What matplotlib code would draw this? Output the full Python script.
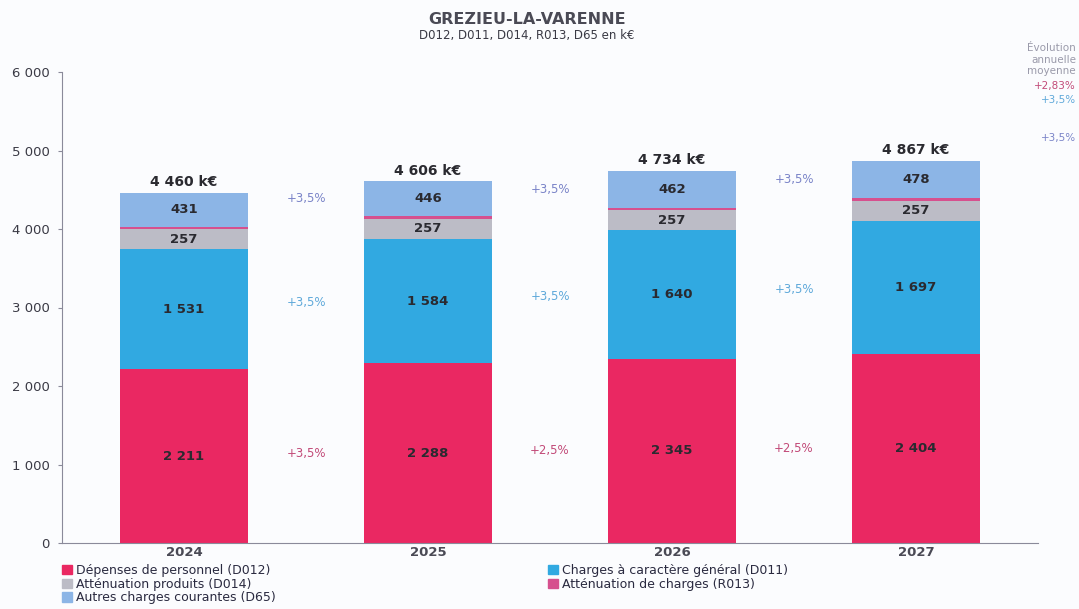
import numpy as np
import matplotlib.pyplot as plt
from matplotlib.patches import Patch

years = ['2024', '2025', '2026', '2027']
d012 = [2211, 2288, 2345, 2404]
d011 = [1531, 1584, 1640, 1697]
d014 = [257, 257, 257, 257]
r013 = [30, 31, 30, 31]
d65 = [431, 446, 462, 478]
totals = [4460, 4606, 4734, 4867]

growth_d012 = ['+3,5%', '+2,5%', '+2,5%']
growth_d011 = ['+3,5%', '+3,5%', '+3,5%']
growth_d65 = ['+3,5%', '+3,5%', '+3,5%']

c_d012 = '#ea2862'
c_d011 = '#31a9e1'
c_d014 = '#bcbcc6'
c_r013 = '#d6508e'
c_d65 = '#8cb5e6'


def fmt(v):
    return f'{int(v):,}'.replace(',', ' ')


fig = plt.figure(figsize=(10.79, 6.09), dpi=100, facecolor='#fbfcfe')
ax = fig.add_axes([62 / 1079, 1 - 543 / 609, (1038 - 62) / 1079, (543 - 72) / 609])
ax.set_facecolor('#fbfcfe')

x = np.arange(len(years))
w = 0.525
series = [(d012, c_d012), (d011, c_d011), (d014, c_d014), (r013, c_r013), (d65, c_d65)]
bottom = np.zeros(len(years))
centers = []
for vals, col in series:
    vals = np.array(vals, dtype=float)
    ax.bar(x, vals, w, bottom=bottom, color=col, edgecolor='none')
    centers.append(bottom + vals / 2)
    bottom = bottom + vals

lab_font = dict(fontsize=9.5, fontweight='bold', color='#2a2a30', ha='center', va='center')
for i in range(len(years)):
    ax.text(x[i], centers[0][i], fmt(d012[i]), **lab_font)
    ax.text(x[i], centers[1][i], fmt(d011[i]), **lab_font)
    ax.text(x[i], centers[2][i], fmt(d014[i]), **lab_font)
    ax.text(x[i], centers[4][i], fmt(d65[i]), **lab_font)
    ax.text(x[i], bottom[i] + 50, fmt(totals[i]) + ' k€', fontsize=10, fontweight='bold',
            color='#2a2a30', ha='center', va='bottom')

g_font = dict(fontsize=8.5, ha='center', va='center')
for i in range(len(years) - 1):
    xm = x[i] + 0.5
    ax.text(xm, centers[0][i + 1], growth_d012[i], color='#c24a78', **g_font)
    ax.text(xm, centers[1][i + 1] - 20, growth_d011[i], color='#5fa9da', **g_font)
    ax.text(xm, centers[4][i + 1], growth_d65[i], color='#7a84c8', **g_font)

ax.set_xlim(-0.5, 3.5)
ax.set_ylim(0, 6000)
ax.set_xticks(x)
ax.set_xticklabels(years, fontsize=9.5, fontweight='bold', color='#4a4a55')
ax.tick_params(axis='x', length=0, pad=2)
ax.set_yticks(range(0, 6001, 1000))
ax.set_yticklabels([fmt(v) for v in range(0, 6001, 1000)], fontsize=9.5, color='#3a3a45')
ax.tick_params(axis='y', length=3, color='#8a8a9a', pad=6)
for s in ['top', 'right']:
    ax.spines[s].set_visible(False)
ax.spines['left'].set_color('#8a8a9a')
ax.spines['bottom'].set_color('#8a8a9a')

fig.text(527 / 1079, 1 - 19 / 609, 'GREZIEU-LA-VARENNE', fontsize=11.5, fontweight='bold',
         color='#4a4a55', ha='center', va='center')
fig.text(527 / 1079, 1 - 35 / 609, 'D012, D011, D014, R013, D65 en k€', fontsize=8.5,
         color='#3a3a45', ha='center', va='center')

# average annual growth, right margin
rx = 1076 / 1079
for yy, t in [(48, 'Évolution'), (60, 'annuelle'), (71, 'moyenne')]:
    fig.text(rx, 1 - yy / 609, t, fontsize=7.5, color='#9a9aaa', ha='right', va='center')
fig.text(rx, 1 - 86 / 609, '+2,83%', fontsize=7.5, color='#c24a78', ha='right', va='center')
fig.text(rx, 1 - 100 / 609, '+3,5%', fontsize=7.5, color='#5fa9da', ha='right', va='center')
fig.text(rx, 1 - 138 / 609, '+3,5%', fontsize=7.5, color='#7a84c8', ha='right', va='center')

leg_kw = dict(frameon=False, fontsize=9, handlelength=0.8, handleheight=0.8,
              handletextpad=0.3, labelspacing=0.05, borderaxespad=0, borderpad=0,
              labelcolor='#2a2a40', loc='upper left')
h1 = [Patch(color=c_d012, label='Dépenses de personnel (D012)'),
      Patch(color=c_d014, label='Atténuation produits (D014)'),
      Patch(color=c_d65, label='Autres charges courantes (D65)')]
h2 = [Patch(color=c_d011, label='Charges à caractère général (D011)'),
      Patch(color=c_r013, label='Atténuation de charges (R013)')]
fig.legend(handles=h1, bbox_to_anchor=(62 / 1079, 1 - 564 / 609), **leg_kw)
fig.legend(handles=h2, bbox_to_anchor=(548 / 1079, 1 - 564 / 609), **leg_kw)

fig.savefig('out.png', dpi=100, facecolor=fig.get_facecolor())
